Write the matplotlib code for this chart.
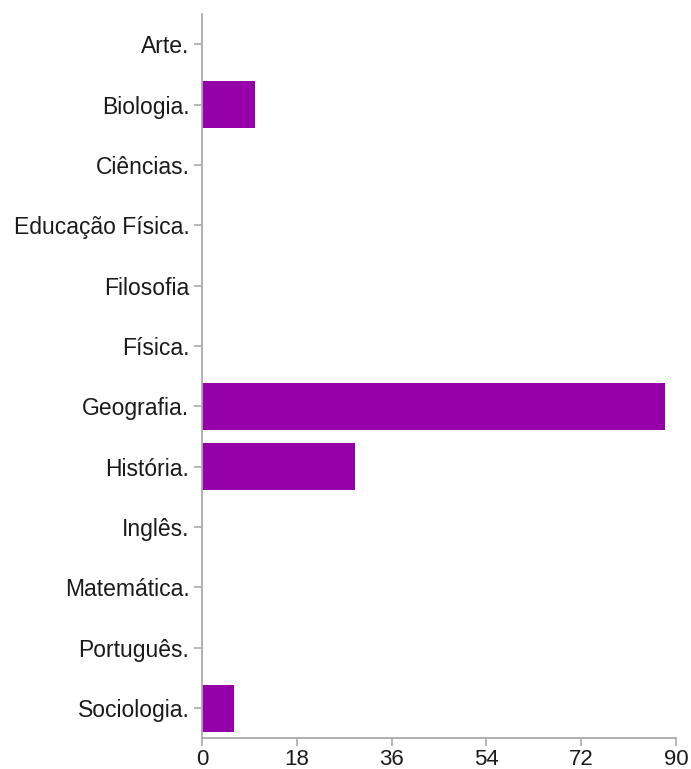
import matplotlib
matplotlib.use('Agg')
import matplotlib.pyplot as plt

plt.rcParams['font.family'] = ['Liberation Sans', 'DejaVu Sans']

categorias = ['Arte.', 'Biologia.', 'Ciências.', 'Educação Física.', 'Filosofia',
              'Física.', 'Geografia.', 'História.', 'Inglês.', 'Matemática.',
              'Português.', 'Sociologia.']
respostas = [0, 10, 0, 0, 0, 0, 88, 29, 0, 0, 0, 6]
xticks = [0, 18, 36, 54, 72, 90]

fig = plt.figure(figsize=(6.91, 7.69), dpi=100)
ax = fig.add_axes([0.2923, 0.040, 0.6860, 0.9418])

pos = list(range(len(categorias)))
ax.barh(pos, respostas, height=0.78, color='#9600a8')

ax.set_yticks(pos)
ax.set_yticklabels(categorias)
ax.set_ylim(len(categorias) - 0.5, -0.5)
ax.set_xlim(0, 90)
ax.set_xticks(xticks)

for s in ['top', 'right']:
    ax.spines[s].set_visible(False)
for s in ['left', 'bottom']:
    ax.spines[s].set_color('#aaaaaa')
    ax.spines[s].set_linewidth(1.3)

ax.tick_params(axis='both', colors='#aaaaaa', length=6, width=1.2, labelsize=16,
               labelcolor='#1a1a1a')
ax.tick_params(axis='y', pad=3, labelsize=16.5)
ax.tick_params(axis='x', pad=2)

fig.savefig('out.png', dpi=100)
